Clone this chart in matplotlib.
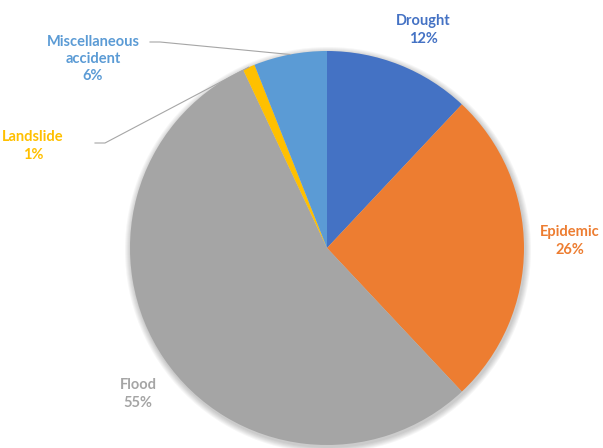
import numpy as np
import matplotlib
matplotlib.use('Agg')
from matplotlib import pyplot as plt
from matplotlib.patches import Circle

categories = ['Drought', 'Epidemic', 'Flood', 'Landslide', 'Miscellaneous\naccident']
values = [12, 26, 55, 1, 6]
colors = ['#4472C4', '#ED7D31', '#A5A5A5', '#FFC000', '#5B9BD5']

plt.rcParams['font.family'] = ['Lato', 'DejaVu Sans']

W, H = 603, 448
fig = plt.figure(figsize=(W / 100, H / 100), dpi=100)
ax = fig.add_axes([0, 0, 1, 1])

cx, cy, r = 327, H - 248, 197

# soft shadow behind the pie
for k in range(6):
    ax.add_patch(Circle((cx + 1, cy - 2), r + 1 + k, color='black', alpha=0.035, lw=0, zorder=0))

wedges, _ = ax.pie(values, colors=colors, startangle=90, counterclock=False,
                   center=(cx, cy), radius=r, frame=True,
                   wedgeprops=dict(linewidth=0))
ax.set_xlim(0, W)
ax.set_ylim(0, H)
ax.axis('off')

# label positions (pixels from top-left)
label_pos = [(423, 30), (570, 241), (138, 394), (33, 146), (93, 59)]
for i, (name, v) in enumerate(zip(categories, values)):
    x, y = label_pos[i]
    ax.text(x, H - y, f'{name}\n{v}%', ha='center', va='center', color=colors[i],
            fontsize=10.5, fontweight='bold', linespacing=1.3)

# leader lines for the small slices
def edge_point(w):
    a = np.deg2rad((w.theta1 + w.theta2) / 2)
    return cx + r * np.cos(a), cy + r * np.sin(a)

for i, start in [(3, (95, 143)), (4, (150, 42))]:
    ex, ey = edge_point(wedges[i])
    mx = start[0] + 10
    ax.plot([start[0], mx, ex], [H - start[1], H - start[1], ey], color='#A6A6A6', lw=0.8)

fig.savefig('out.png', dpi=100)
